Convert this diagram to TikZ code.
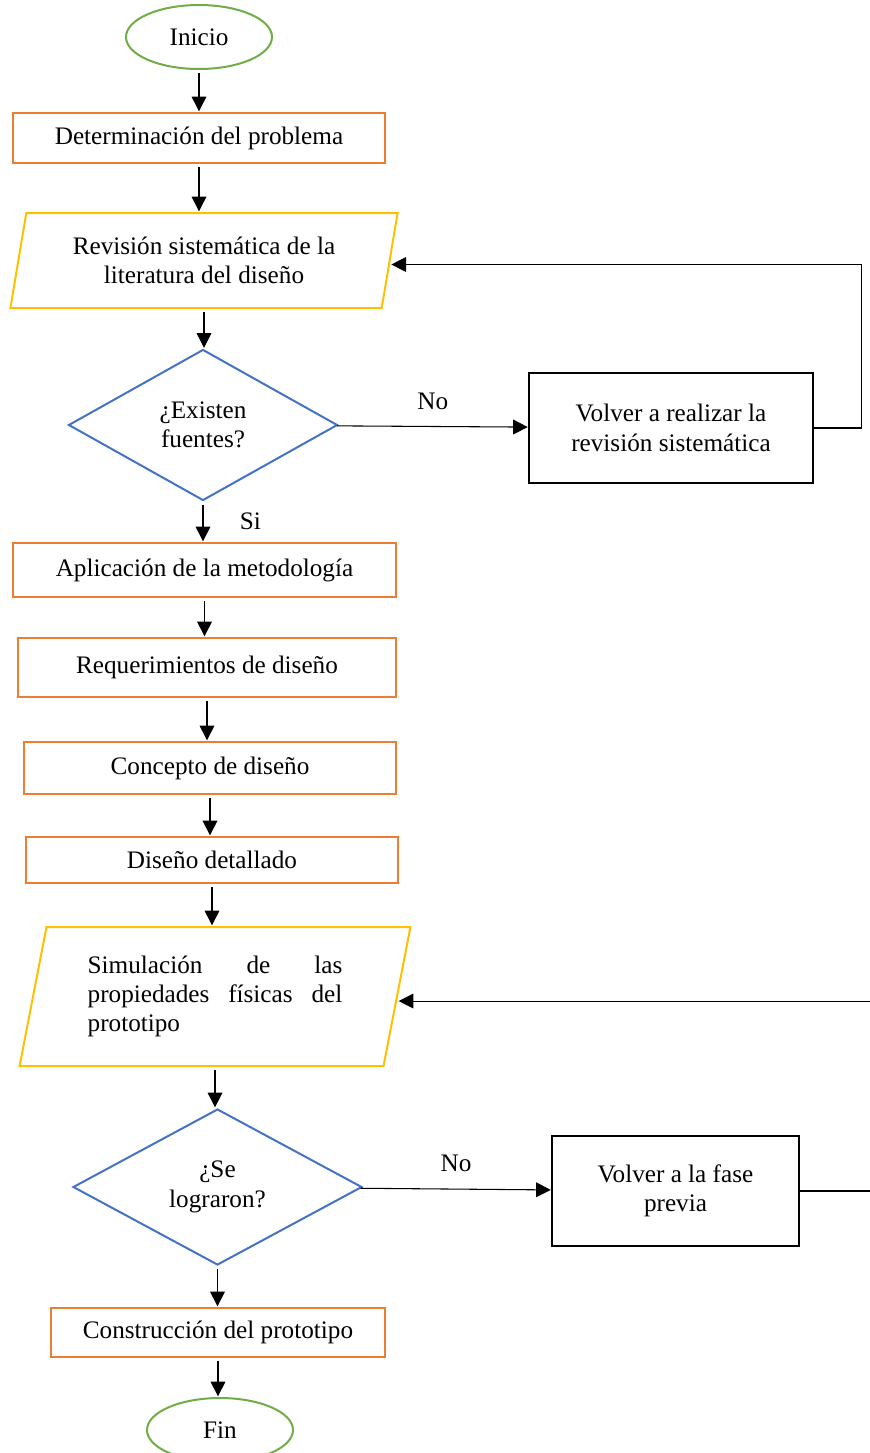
\documentclass[tikz,border=0pt]{standalone}
\usepackage{fontspec}
\setmainfont{Liberation Serif}
\usetikzlibrary{shapes.geometric, arrows.meta}

\definecolor{boxorange}{HTML}{ED7D31}
\definecolor{boxyellow}{HTML}{FFC000}
\definecolor{boxblue}{HTML}{4472C4}
\definecolor{boxgreen}{HTML}{70AD47}

\begin{document}
\begin{tikzpicture}[%
	x=0.75pt, y=-0.75pt,         % one unit is one pixel of the page
	every node/.style={font=\fontsize{18.9pt}{22pt}\selectfont},
	>={Triangle[length=11pt, width=11pt]},
	]
	% -------------------------------------------------
	% Box styles
	\tikzset{
		base/.style={draw, align=center, inner sep=0pt},
		term/.style={base, ellipse, boxgreen, text=black, line width=1.5pt,
			minimum width=109.5pt, minimum height=48pt},
		proc/.style={base, rectangle, boxorange, text=black, line width=1.5pt},
		io/.style={base, trapezium, trapezium left angle=76, trapezium right angle=104,
			trapezium stretches=true, boxyellow, text=black, line width=1.5pt},
		test/.style={base, diamond, boxblue, text=black, line width=1.5pt},
		back/.style={base, rectangle, black, line width=0.8pt},
		% -------------------------------------------------
		% Connector line styles
		norm/.style={->, draw, line width=0.8pt, shorten <=2.5pt, shorten >=0.5pt},
		lab/.style={font=\fontsize{18.9pt}{22pt}\selectfont}
	}
	\useasboundingbox (0,0) rectangle (869,1453);

	\node[term] (ini) at (199,37) {Inicio};
	\node[proc, minimum width=279pt, minimum height=37.5pt] (det) at (199,138)
		{Determinación del problema};
	\node[io, minimum width=291pt, minimum height=71.25pt] (rev) at (204,260.5)
		{Revisión sistemática de la\\literatura del diseño};
	\node[test, minimum width=201.75pt, minimum height=113.25pt] (dec1) at (203,425)
		{¿Existen\\fuentes?};
	\node[back, minimum width=213pt, minimum height=82.5pt] (volv1) at (671,428)
		{Volver a realizar la\\revisión sistemática};
	\node[proc, minimum width=287.25pt, minimum height=40.5pt] (apl) at (204.5,570)
		{Aplicación de la metodología};
	\node[proc, minimum width=283.5pt, minimum height=44.25pt] (req) at (207,667.5)
		{Requerimientos de diseño};
	\node[proc, minimum width=279pt, minimum height=39pt] (conc) at (210,768)
		{Concepto de diseño};
	\node[proc, minimum width=279pt, minimum height=34.5pt] (dis) at (212,860)
		{Diseño detallado};
	\node[io, minimum width=294pt, minimum height=104.25pt, text width=191pt,
		align=justify] (sim) at (215,996.5)
		{Simulación de las propiedades físicas del prototipo};
	\node[test, minimum width=216.75pt, minimum height=117pt] (dec2) at (217.5,1187)
		{¿Se\\lograron?};
	\node[back, minimum width=185.25pt, minimum height=82.5pt] (volv2) at (675.5,1191)
		{Volver a la fase\\previa};
	\node[proc, minimum width=250.5pt, minimum height=36.75pt] (cons) at (218,1332.5)
		{Construcción del prototipo};
	\node[term] (fin) at (220,1430) {Fin};

	% main flow
	\draw[norm] (ini.south) -- (ini.south |- det.north);
	\draw[norm] (det.south) -- (det.south |- rev.north);
	\draw[norm] (rev.south) -- (rev.south |- dec1.north);
	\draw[norm] (dec1.south) -- node[lab, right=24pt] {Si} (dec1.south |- apl.north);
	\draw[norm] (apl.south) -- (apl.south |- req.north);
	\draw[norm] (req.south) -- (req.south |- conc.north);
	\draw[norm] (conc.south) -- (conc.south |- dis.north);
	\draw[norm] (dis.south) -- (dis.south |- sim.north);
	\draw[norm] (sim.south) -- (sim.south |- dec2.north);
	\draw[norm] (dec2.south) -- (dec2.south |- cons.north);
	\draw[norm] (cons.south) -- (cons.south |- fin.north);

	% loops back
	\draw[norm, shorten <=0pt] (dec1) -- node[lab, above=9pt] {No} (volv1);
	\draw[norm, shorten <=0pt] (volv1.east) -- ++(48,0) |- ([yshift=-3pt]rev.east);
	\draw[norm, shorten <=0pt] (dec2) -- node[lab, above=9pt] {No} (volv2);
	\draw[norm, shorten <=0pt] (volv2.east) -- ++(90,0) |- ([yshift=-3.4pt]sim.east);

\end{tikzpicture}
\end{document}
